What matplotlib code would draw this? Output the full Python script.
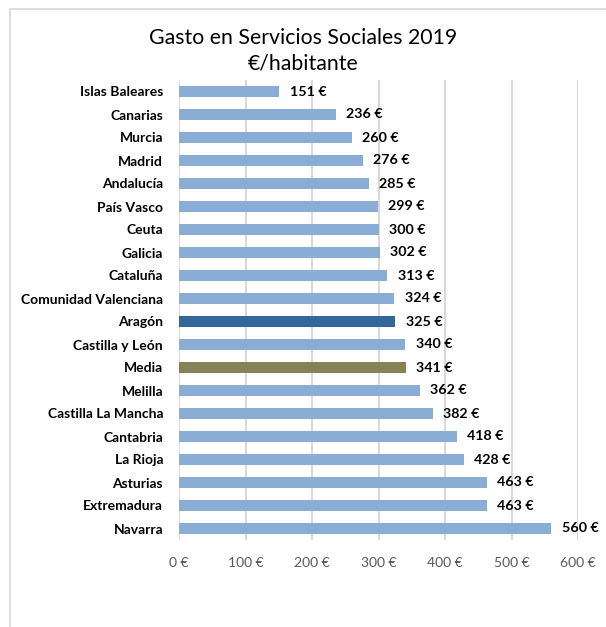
import numpy as np
import matplotlib
matplotlib.use("Agg")
from matplotlib import pyplot as plt
from matplotlib.patches import Rectangle

regiones = ["Islas Baleares", "Canarias", "Murcia", "Madrid", "Andalucía",
            "País Vasco", "Ceuta", "Galicia", "Cataluña", "Comunidad Valenciana",
            "Aragón", "Castilla y León", "Media", "Melilla", "Castilla La Mancha",
            "Cantabria", "La Rioja", "Asturias", "Extremadura", "Navarra"]
gasto = [151, 236, 260, 276, 285, 299, 300, 302, 313, 324,
         325, 340, 341, 362, 382, 418, 428, 463, 463, 560]
ticks_x = [0, 100, 200, 300, 400, 500, 600]

plt.rcParams['font.family'] = ['Lato', 'DejaVu Sans']

# colores: Aragón y Media destacados
colores = []
for r in regiones:
    if r == "Aragón":
        colores.append("#336699")
    elif r == "Media":
        colores.append("#878157")
    else:
        colores.append("#8AADD5")

fig = plt.figure(figsize=(6.06, 6.27), dpi=100)
ax = fig.add_axes([179/606, 1-540/627, (578-179)/606, 460/627])

y = np.arange(len(regiones))
ax.barh(y, gasto, height=0.52, color=colores, zorder=3)
for yi, v in zip(y, gasto):
    ax.annotate("%d €" % v, (v, yi), xytext=(7.5, 0), textcoords="offset points",
                va="center", ha="left", fontsize=10.3, fontweight="bold", color="black")

ax.set_ylim(len(regiones) - 0.5, -0.5)
ax.set_xlim(0, 600)
ax.set_yticks(y)
ax.set_yticklabels(regiones, fontsize=10, fontweight="bold")
ax.set_xticks(ticks_x)
ax.set_xticklabels(["%d €" % t for t in ticks_x], fontsize=10, color="#595959")
ax.tick_params(axis="y", length=0, pad=11.5)
ax.tick_params(axis="x", length=0, pad=12)
ax.grid(axis="x", color="#D9D9D9", linewidth=1.5, zorder=0)
for s in ax.spines.values():
    s.set_visible(False)

fig.text(0.5, 1-38/627, "Gasto en Servicios Sociales 2019", ha="center", va="center", fontsize=15.3)
fig.text(0.5, 1-64/627, "€/habitante", ha="center", va="center", fontsize=15.3)

# borde del gráfico
fig.patches.append(Rectangle((10/606, -0.01), 1.0, 1 - 9/627 + 0.01, transform=fig.transFigure,
                             fill=False, edgecolor="#D9D9D9", linewidth=1.2))

fig.savefig("out.png", dpi=100)
